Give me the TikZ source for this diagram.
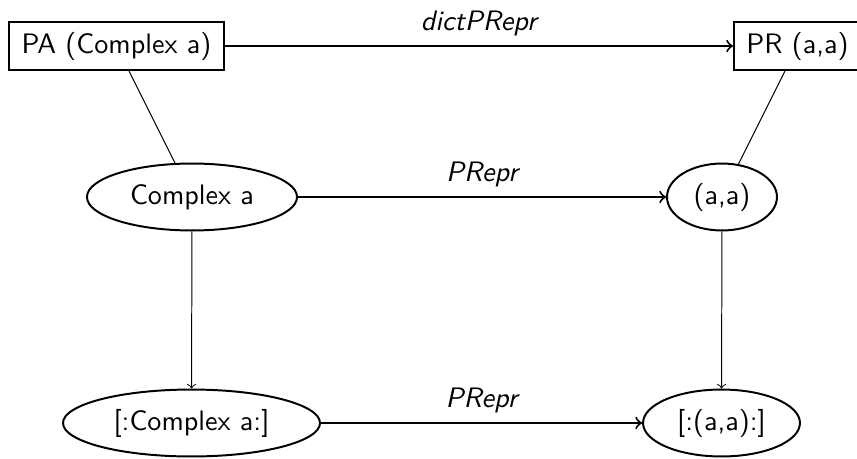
\documentclass[tikz,border=0pt]{standalone}
\usetikzlibrary{shapes.geometric}
\begin{document}
\begin{tikzpicture}[x=0.0125cm,y=-0.0125cm,
  every node/.style={font=\sffamily},
  boxnode/.style={draw,rectangle,line width=0.7pt,inner xsep=4.4pt,inner ysep=0pt,minimum height=17.1pt},
  ellnode/.style={draw,ellipse,line width=0.7pt,inner sep=0pt,minimum height=23.8pt},
  mainarrow/.style={->,line width=0.7pt},
  thinarrow/.style={->,line width=0.35pt},
  link/.style={line width=0.35pt},
  lbl/.style={above,font=\sffamily\itshape}]
\useasboundingbox (0,0) rectangle (857,458);
\node[boxnode] (PA) at (116.5,46) {PA (Complex a)};
\node[boxnode] (PR) at (797.5,46) {PR (a,a)};
\node[ellnode,minimum width=74.7pt] (CA) at (192,197) {Complex a};
\node[ellnode,minimum width=39.1pt] (AA) at (722,197) {(a,a)};
\node[ellnode,minimum width=91.4pt] (LCA) at (191.5,423) {[:Complex a:]};
\node[ellnode,minimum width=55.8pt] (LAA) at (721.5,423) {[:(a,a):]};
\draw[mainarrow] (PA) -- node[lbl] {dictPRepr} (PR);
\draw[mainarrow] (CA) -- node[lbl] {PRepr} (AA);
\draw[mainarrow] (LCA) -- node[lbl] {PRepr} (LAA);
\draw[link] (PA) -- (CA);
\draw[link] (PR) -- (AA);
\draw[thinarrow] (CA) -- (LCA);
\draw[thinarrow] (AA) -- (LAA);
\end{tikzpicture}
\end{document}
